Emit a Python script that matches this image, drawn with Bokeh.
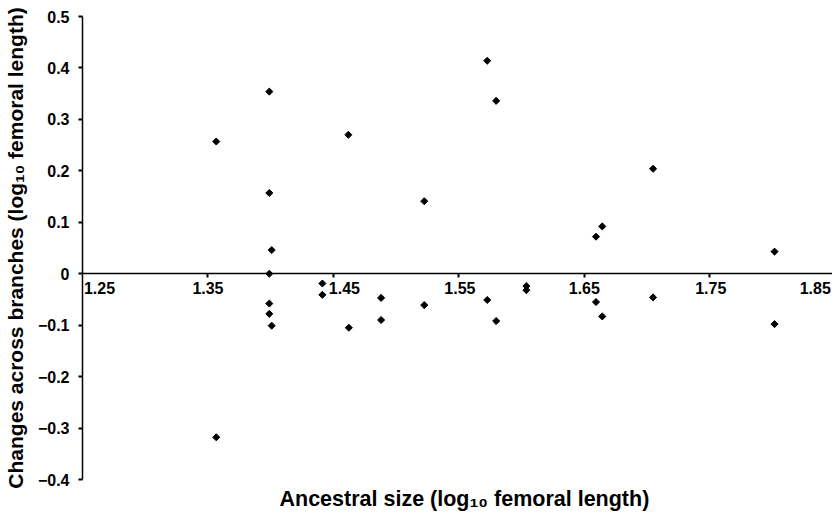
import math
from bokeh.plotting import figure
from bokeh.models import FixedTicker, ColumnDataSource, LabelSet, Title, Range1d
from bokeh.core.properties import value
from bokeh.embed import file_html
from bokeh.resources import INLINE

# ---- data ----
ancestral_size = [
    1.3566, 1.3566,
    1.3989, 1.3989, 1.4008, 1.3989, 1.3989, 1.3989, 1.4008,
    1.4412, 1.4412,
    1.4619, 1.4623,
    1.4880, 1.4880,
    1.5224, 1.5224,
    1.5726, 1.5726,
    1.5797, 1.5797,
    1.6038, 1.6038,
    1.6593, 1.6593,
    1.6643, 1.6643,
    1.7048, 1.7048,
    1.8016, 1.8016,
]
branch_change = [
    0.257, -0.318,
    0.354, 0.157, 0.046, 0.000, -0.058, -0.078, -0.101,
    -0.019, -0.041,
    0.270, -0.105,
    -0.047, -0.090,
    0.141, -0.061,
    0.414, -0.051,
    0.336, -0.092,
    -0.024, -0.032,
    0.072, -0.055,
    0.092, -0.083,
    0.204, -0.046,
    0.043, -0.098,
]

x_ticks = [1.25, 1.35, 1.45, 1.55, 1.65, 1.75, 1.85]
x_tick_labels = ["1.25", "1.35", "1.45", "1.55", "1.65", "1.75", "1.85"]
y_ticks = [-0.4, -0.3, -0.2, -0.1, 0, 0.1, 0.2, 0.3, 0.4, 0.5]
y_tick_labels = ["\u22120.4", "\u22120.3", "\u22120.2", "\u22120.1", "0",
                 "0.1", "0.2", "0.3", "0.4", "0.5"]

x_title = "Ancestral size (log\u2081\u2080 femoral length)"
y_title = "Changes across branches (log\u2081\u2080 femoral length)"

FONT = "Liberation Sans"

p = figure(width=832, height=516, output_backend="svg", toolbar_location=None,
           x_range=Range1d(1.25, 1.8478), y_range=Range1d(-0.4, 0.5),
           min_border_left=78, min_border_right=0, min_border_top=16,
           min_border_bottom=36)
p.outline_line_color = None
p.xgrid.visible = False
p.ygrid.visible = False
p.background_fill_color = "white"
p.border_fill_color = "white"

p.scatter(ancestral_size, branch_change, marker="square", angle=math.pi / 4,
          size=5, fill_color="black", line_color="black")

# y axis
ya = p.yaxis[0]
ya.ticker = FixedTicker(ticks=y_ticks)
ya.major_label_overrides = {t: s for t, s in zip(y_ticks, y_tick_labels)}
ya.minor_tick_line_color = None
ya.major_tick_in = 0
ya.major_tick_out = 4
ya.major_tick_line_width = 2
ya.axis_line_width = 1.5
ya.axis_line_color = "black"
ya.major_tick_line_color = "black"
ya.major_label_standoff = 9
ya.major_label_text_font = FONT
ya.major_label_text_font_style = "bold"
ya.major_label_text_font_size = "16px"
ya.major_label_text_color = "black"
ya.axis_label = y_title
ya.axis_label_text_font = FONT
ya.axis_label_text_font_style = "bold"
ya.axis_label_text_font_size = "21px"
ya.axis_label_text_color = "black"
ya.axis_label_standoff = 8

# x axis at y = 0
xa = p.xaxis[0]
xa.fixed_location = 0
xa.ticker = FixedTicker(ticks=x_ticks[1:-1])
xa.major_label_overrides = {t: "" for t in x_ticks}
xa.minor_tick_line_color = None
xa.major_tick_in = 0
xa.major_tick_out = 4
xa.major_tick_line_width = 2
xa.axis_line_width = 1.5
xa.axis_line_color = "black"
xa.major_tick_line_color = "black"

# x tick labels
lab_src = ColumnDataSource(dict(x=x_ticks, y=[0] * len(x_ticks), text=x_tick_labels,
                                dx=[17, 0, 11, 1, 0, 1, -20]))
p.add_layout(LabelSet(x="x", y="y", text="text", source=lab_src, x_offset="dx",
                      y_offset=-8, text_align="center", text_baseline="top",
                      text_font=value(FONT), text_font_style="bold",
                      text_font_size="16px", text_color="black"))

p.add_layout(Title(text=x_title, align="left", text_font=FONT,
                   text_font_style="bold", text_font_size="21.5px",
                   text_color="black", standoff=11, offset=197), "below")

open("out.html", "w").write(file_html(p, INLINE))
